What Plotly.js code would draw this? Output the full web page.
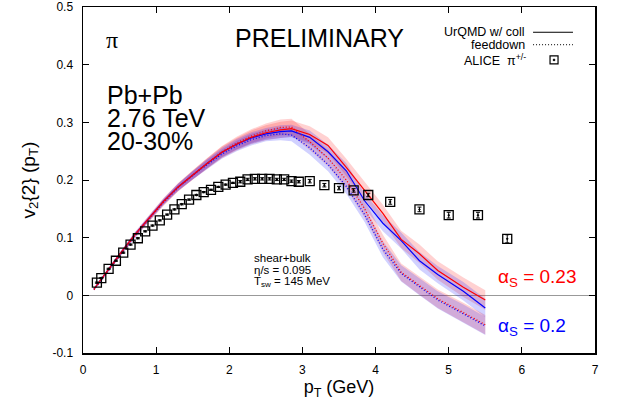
<!DOCTYPE html>
<html>
<head>
<meta charset="utf-8">
<script src="https://cdn.plot.ly/plotly-3.0.1.min.js"></script>
<style>html,body{margin:0;padding:0;background:#fff;}#chart{width:624px;height:405px;}</style>
</head>
<body>
<div id="chart"></div>
<script>
// ALICE pi+/- v2{2}(pT), 20-30%
const aliceX = [0.19,0.25,0.35,0.45,0.55,0.65,0.75,0.85,0.95,1.05,1.15,1.25,1.35,1.45,1.55,1.65,1.75,1.85,1.95,2.05,2.15,2.25,2.35,2.45,2.55,2.65,2.75,2.85,2.95,3.1,3.3,3.5,3.7,3.9,4.2,4.6,5.0,5.4,5.8];
const aliceY = [0.022,0.030,0.046,0.060,0.074,0.088,0.099,0.111,0.121,0.130,0.140,0.149,0.158,0.166,0.174,0.179,0.183,0.188,0.192,0.195,0.197,0.201,0.202,0.202,0.202,0.201,0.201,0.198,0.197,0.198,0.191,0.186,0.182,0.174,0.162,0.149,0.139,0.139,0.098];
const aliceErr = [0.001,0.001,0.001,0.001,0.001,0.001,0.001,0.001,0.001,0.001,0.001,0.001,0.001,0.001,0.001,0.001,0.001,0.001,0.001,0.001,0.002,0.002,0.002,0.002,0.002,0.002,0.002,0.002,0.002,0.003,0.003,0.003,0.003,0.003,0.004,0.004,0.005,0.005,0.007];

// UrQMD (hybrid) model curves
const modelX = [0.15,0.3,0.5,0.7,0.9,1.1,1.3,1.5,1.7,1.9,2.1,2.3,2.5,2.7,2.85,3.1,3.35,3.6,3.85,4.1,4.35,4.6,4.85,5.2,5.5];
const red023Coll = [0.011,0.037,0.071,0.104,0.134,0.163,0.188,0.209,0.229,0.248,0.262,0.274,0.282,0.287,0.289,0.279,0.260,0.222,0.183,0.142,0.097,0.072,0.043,0.014,-0.008];
const red023Feed = [0.010,0.035,0.069,0.102,0.132,0.161,0.187,0.209,0.229,0.249,0.264,0.276,0.285,0.291,0.292,0.266,0.238,0.200,0.150,0.090,0.040,0.017,-0.006,-0.030,-0.051];
const blue020Coll = [0.011,0.037,0.071,0.104,0.134,0.163,0.188,0.209,0.229,0.248,0.262,0.273,0.280,0.284,0.285,0.274,0.249,0.216,0.164,0.125,0.095,0.060,0.036,0.007,-0.022];
const blue020Feed = [0.010,0.035,0.069,0.102,0.132,0.161,0.187,0.208,0.227,0.245,0.259,0.270,0.277,0.280,0.278,0.256,0.227,0.189,0.140,0.080,0.038,0.015,-0.008,-0.032,-0.053];
const redBand = [0.002,0.003,0.003,0.004,0.005,0.006,0.007,0.008,0.009,0.010,0.011,0.012,0.013,0.014,0.014,0.014,0.014,0.015,0.015,0.015,0.015,0.016,0.016,0.017,0.017];
const blueBand = [0.002,0.003,0.003,0.004,0.004,0.005,0.006,0.007,0.008,0.008,0.009,0.010,0.010,0.011,0.011,0.012,0.012,0.013,0.013,0.014,0.014,0.015,0.015,0.016,0.016];

const yTickVals = [-0.1,0,0.1,0.2,0.3,0.4,0.5];
const yTickText = ['-0.1','0','0.1','0.2','0.3','0.4','0.5'];
const xTickVals = [0,1,2,3,4,5,6,7];

const FONT = '"Liberation Sans", Arial, Helvetica, sans-serif';

function band(y, err, color) {
  const xs = modelX.concat(modelX.slice().reverse());
  const up = y.map((v,i)=>v+err[i]);
  const lo = y.map((v,i)=>v-err[i]).reverse();
  return {x: xs, y: up.concat(lo), type:'scatter', mode:'lines', fill:'toself',
          fillcolor: color, line:{width:0}, hoverinfo:'skip', showlegend:false};
}
function curve(y, color, dash) {
  return {x: modelX, y: y, type:'scatter', mode:'lines',
          line:{color: color, width: dash==='solid'?1.2:1.3, dash: dash==='solid'?'solid':'1px,2px'}, showlegend:false};
}

const traces = [
  band(red023Coll, redBand, 'rgba(255,0,0,0.18)'),
  band(red023Feed, redBand, 'rgba(255,0,0,0.18)'),
  band(blue020Coll, blueBand, 'rgba(0,0,255,0.18)'),
  band(blue020Feed, blueBand, 'rgba(0,0,255,0.18)'),
  curve(blue020Coll, '#0000ff', 'solid'),
  curve(blue020Feed, '#0000ff', 'dot'),
  curve(red023Coll, '#ff0000', 'solid'),
  curve(red023Feed, '#ff0000', 'dot'),
  {x: aliceX, y: aliceY, type:'scatter', mode:'markers',
   marker:{symbol:'square-open-dot', size:9, color:'#000', line:{width:1.3, color:'#000'}},
   error_y:{type:'data', array: aliceErr, visible:true, color:'#000', thickness:1, width:2},
   showlegend:false}
];

const T = (text, x, y, size, opts) => Object.assign({
  text: text, xref:'paper', yref:'paper', x:x, y:y, showarrow:false,
  xanchor:'left', yanchor:'middle', font:{family:FONT, size:size, color:'#000'}
}, opts||{});

const annotations = [
  T('π', 0.041, 0.905, 24, {font:{family:'"Liberation Serif", "Times New Roman", serif', size:24, color:'#000'}}),
  T('PRELIMINARY', 0.461, 0.910, 25, {xanchor:'center'}),
  T('Pb+Pb', 0.043, 0.746, 25),
  T('2.76 TeV', 0.043, 0.680, 25),
  T('20-30%', 0.043, 0.614, 25),
  T('shear+bulk', 0.330, 0.274, 11.5),
  T('η/s = 0.095', 0.330, 0.241, 11.5),
  T('T<sub>sw</sub> = 145 MeV', 0.330, 0.206, 11.5),
  T('α<sub>S</sub> = 0.23', 0.806, 0.217, 19, {font:{family:FONT, size:19, color:'#ff0000'}}),
  T('α<sub>S</sub> = 0.2', 0.806, 0.075, 19, {font:{family:FONT, size:19, color:'#0000ff'}}),
  T('UrQMD w/ coll', 0.867, 0.928, 12.5, {xanchor:'right'}),
  T('feeddown', 0.867, 0.891, 12.5, {xanchor:'right'}),
  T('ALICE  π<sup>+/-</sup>', 0.869, 0.847, 12.5, {xanchor:'right'})
];

const shapes = [
  {type:'line', xref:'paper', yref:'paper', x0:0.879, x1:0.957, y0:0.927, y1:0.927, line:{color:'#000', width:1}},
  {type:'line', xref:'paper', yref:'paper', x0:0.879, x1:0.957, y0:0.891, y1:0.891, line:{color:'#000', width:1, dash:'1px,2px'}},
  {type:'rect', xref:'paper', yref:'paper', xsizemode:'pixel', ysizemode:'pixel', xanchor:0.920, yanchor:0.847,
   x0:-4, x1:4, y0:-4, y1:4, line:{color:'#000', width:1.2}},
  {type:'rect', xref:'paper', yref:'paper', xsizemode:'pixel', ysizemode:'pixel', xanchor:0.920, yanchor:0.847,
   x0:-0.7, x1:0.7, y0:-0.7, y1:0.7, line:{color:'#000', width:1}, fillcolor:'#000'}
];

const layout = {
  width:624, height:405,
  margin:{l:83, r:29, t:7, b:52},
  paper_bgcolor:'#fff', plot_bgcolor:'#fff',
  font:{family:FONT, size:12, color:'#000'},
  showlegend:false,
  xaxis:{range:[0,7], tickvals:xTickVals, ticks:'inside', ticklen:6, tickwidth:1, tickcolor:'#000',
         showline:true, linecolor:'#000', linewidth:1.5, mirror:'allticks', showgrid:false, zeroline:false,
         ticklabelstandoff:5, tickfont:{size:12},
         title:{text:'p<sub>T</sub> (GeV)', font:{size:18}, standoff:1}},
  yaxis:{range:[-0.1,0.5], tickvals:yTickVals, ticktext:yTickText, ticks:'inside', ticklen:6, tickwidth:1, tickcolor:'#000',
         showline:true, linecolor:'#000', linewidth:1.5, mirror:'allticks', showgrid:false,
         zeroline:true, zerolinecolor:'#999', zerolinewidth:1,
         ticklabelstandoff:6, tickfont:{size:12},
         title:{text:'v<sub>2</sub>{2} (p<sub>T</sub>)', font:{size:19}, standoff:12}},
  annotations: annotations,
  shapes: shapes
};

Plotly.newPlot('chart', traces, layout, {staticPlot:true, displayModeBar:false});
</script>
</body>
</html>
